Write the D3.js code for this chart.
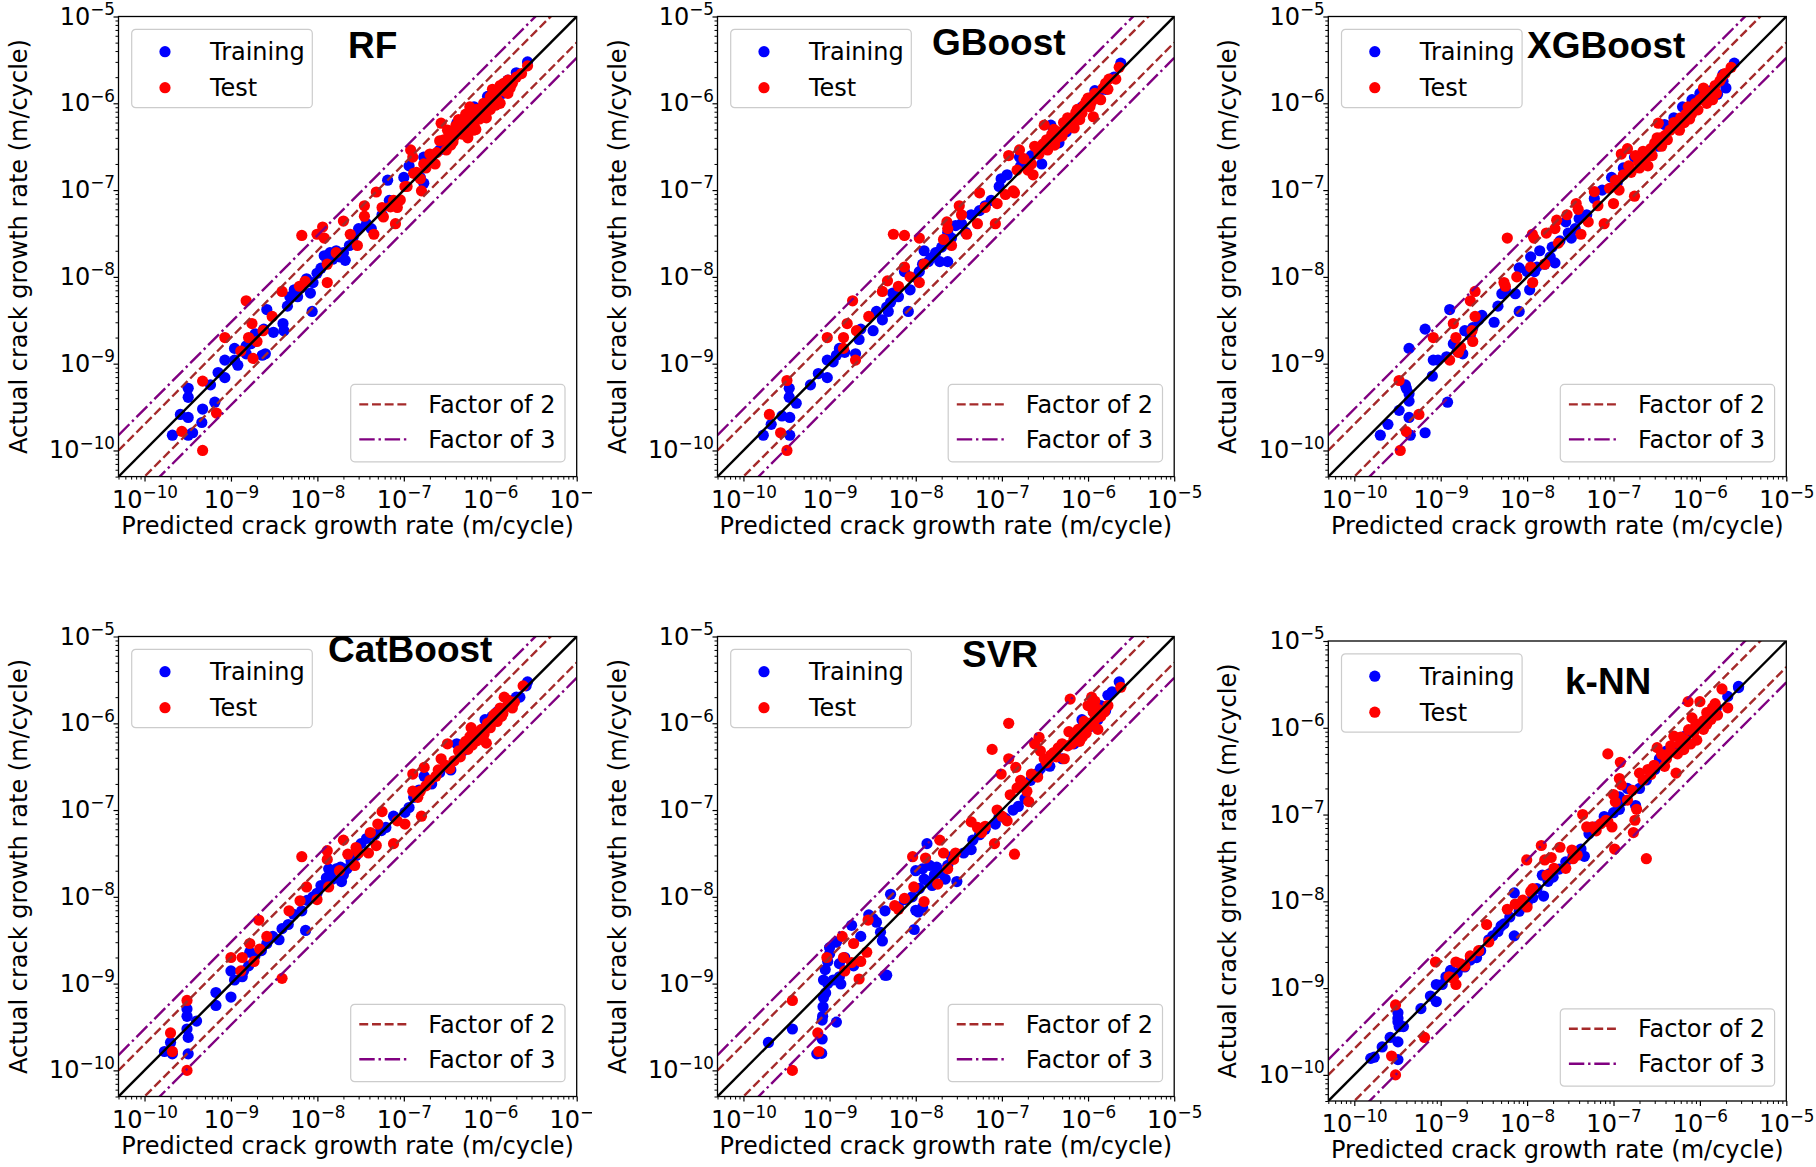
<!DOCTYPE html>
<html>
<head>
<meta charset="utf-8">
<script src="https://cdn.jsdelivr.net/npm/d3@7"></script>
<style>
  body { margin: 0; background: #fff; }
  svg { display: block; }
  text { font-family: "DejaVu Sans", sans-serif; fill: #000; }
  .title { font-family: "Liberation Sans", Arial, sans-serif; font-weight: bold; font-size: 37px; }
</style>
</head>
<body>
<div id="chart"></div>
<script>
// each point: [predicted, actual] in m/cycle
const rfTrain = [
  [2.1e-10,1.5e-10],[2.6e-10,2.6e-10],[3.2e-10,5.2e-10],[3.2e-10,4.1e-10],[3.2e-10,2.4e-10],[3.2e-10,1.5e-10],[3.6e-10,1.6e-10],[4.6e-10,2.1e-10],[4.7e-10,3.0e-10],[5.8e-10,5.7e-10],[6.5e-10,3.6e-10],[7.1e-10,7.9e-10],[8.5e-10,6.9e-10],[8.5e-10,1.1e-9],[1.1e-9,1.1e-9],[1.1e-9,1.5e-9],[1.2e-9,9.6e-10],[1.5e-9,1.3e-9],[1.5e-9,1.6e-9],[1.7e-9,1.7e-9],[2.3e-9,1.25e-9],[2.5e-9,1.3e-9],[2.6e-9,4.2e-9],[2.4e-9,2.5e-9],[3.1e-9,2.3e-9],[4.0e-9,2.9e-9],[4.1e-9,2.4e-9],[4.5e-9,4.6e-9],[4.8e-9,5.9e-9],[5.4e-9,7.1e-9],[5.9e-9,5.9e-9],[8.3e-9,6.5e-9],[8.7e-9,4.0e-9],[8.9e-9,8.6e-9],[9.9e-9,1.1e-8],[1.1e-8,1.26e-8],[1.2e-8,1.75e-8],[1.4e-8,1.9e-8],[1.5e-8,1.6e-8],[1.65e-8,2.0e-8],[2.0e-8,1.9e-8],[2.1e-8,1.55e-8],[2.35e-8,2.3e-8],[3.0e-8,3.6e-8],[3.7e-8,4.1e-8],[4.2e-8,3.6e-8],[5.6e-8,5.2e-8],[6.5e-8,1.3e-7],[6.8e-8,7.6e-8],[1.0e-7,1.4e-7],[1.15e-7,1.9e-7],[1.55e-7,1.4e-7],[1.7e-7,1.2e-7],[1.7e-7,2.4e-7],[2.6e-7,2.9e-7],[2.85e-7,3.5e-7],[4.1e-7,5.9e-7],[4.3e-7,4.7e-7],[6.5e-7,9.1e-7],[9.3e-7,1.2e-6],[1.2e-6,1.27e-6],[1.6e-6,1.85e-6],[2.0e-6,2.25e-6],[2.7e-6,3.0e-6],[3.2e-7,3.4e-7],[5.5e-7,5.2e-7],[8e-7,7.6e-7],[1.4e-6,1.3e-6],
  [1.3e-8,1.5e-8],[1.8e-8,1.7e-8],[2.6e-8,2.9e-8],[1.9e-9,2.2e-9],[6.5e-9,7.5e-9],[7.5e-9,9.5e-9]
];
const rfTest = [
  [2.7e-10,1.66e-10],[4.7e-10,6.3e-10],[4.7e-10,1.0e-10],[6.8e-10,2.7e-10],[8.5e-10,2.0e-9],[1.3e-9,1.4e-9],[1.5e-9,5.3e-9],[1.6e-9,2.0e-9],[1.75e-9,2.9e-9],[1.8e-9,1.15e-9],[2.0e-9,1.8e-9],[2.35e-9,2.4e-9],[3.0e-9,3.5e-9],[3.9e-9,6.8e-9],[6.6e-9,3.0e-8],[6.2e-9,7.8e-9],[7.2e-9,8.9e-9],[9.9e-9,3.1e-8],[1.15e-8,3.75e-8],[1.2e-8,2.8e-8],[1.3e-8,1.4e-8],[1.3e-8,8.6e-9],[1.65e-8,1.9e-8],[2.0e-8,4.4e-8],[2.4e-8,3.1e-8],[2.9e-8,2.3e-8],[3.5e-8,6.6e-8],[3.5e-8,5.0e-8],[4.5e-8,3.1e-8],[4.8e-8,9.5e-8],[5.6e-8,6.3e-8],[8.0e-8,4.1e-8],[8.4e-8,6.3e-8],[7.6e-8,7.6e-8],[1.2e-7,2.9e-7],[1.27e-7,2.4e-7],[1.03e-7,1.1e-7],[1.4e-7,1.6e-7],[1.55e-7,1.35e-7],[1.8e-7,1.8e-7],[2.1e-7,2.2e-7],[1.6e-7,9.8e-8],[2.7e-7,5.9e-7],[2.6e-7,3.7e-7],[3.1e-7,2.9e-7],[3.9e-7,4.2e-7],[4.3e-7,6.5e-7],[5.8e-7,9.1e-7],[5.2e-7,7.5e-7],[6.5e-7,5.6e-7],[7.9e-7,7.5e-7],[9.6e-7,1.0e-6],[1.06e-6,1.45e-6],[1.2e-6,1.1e-6],[1.6e-6,1.85e-6],[1.8e-6,1.7e-6],[1.3e-6,1.6e-6],[2.7e-6,2.7e-6],[2.0e-7,2.6e-7],[2.3e-7,2.0e-7],[3.5e-7,3.3e-7],[4.8e-7,4.4e-7],[6.0e-7,6.2e-7],[7.0e-7,8.5e-7],[8.5e-7,7.0e-7],[1.0e-6,8.5e-7],[1.1e-6,1.2e-6],[1.4e-6,1.4e-6],[5.5e-7,4.0e-7],[6.8e-7,5.0e-7],[9.0e-7,6.8e-7],[1.3e-6,1.0e-6],[1.6e-6,1.3e-6],[2.0e-6,2.0e-6],[3.2e-7,4.9e-7],[4.0e-7,5.5e-7],
  [2.9e-7,3.8e-7],[3.4e-7,4.5e-7],[4.9e-7,5.9e-7],[5.9e-7,7.0e-7],[7.0e-7,8.4e-7],[8.4e-7,1.0e-6],[1.0e-6,1.19e-6],[1.2e-6,1.42e-6],[1.43e-6,1.7e-6],[6.4e-7,4.9e-7],[1.7e-7,2.0e-7],[1.3e-7,1.56e-7],[1.09e-7,1.1e-7],[9.1e-8,7.7e-8],[7.0e-8,6.4e-8],[5.8e-8,4.9e-8],[2.4e-7,2.7e-7],[3.7e-7,3.6e-7],[5.0e-7,4.8e-7],[7.5e-7,6.6e-7],[1.15e-6,9.5e-7],[1.7e-6,1.5e-6],[2.3e-6,2.2e-6]
];

const gboostTrain = [
  [1.7e-10,1.5e-10],[2.1e-10,2.0e-10],[2.8e-10,2.5e-10],[3.4e-10,5.2e-10],[3.4e-10,4.1e-10],[3.45e-10,2.4e-10],[3.45e-10,1.5e-10],[4.1e-10,3.5e-10],[6.0e-10,5.7e-10],[7.4e-10,7.7e-10],[9.4e-10,6.9e-10],[9.4e-10,1.1e-9],[1.1e-9,1.05e-9],[1.2e-9,1.25e-9],[1.3e-9,1.5e-9],[1.5e-9,1.35e-9],[2.0e-9,1.3e-9],[2.2e-9,1.9e-9],[2.3e-9,2.5e-9],[3.2e-9,2.4e-9],[3.5e-9,4.0e-9],[4.1e-9,3.2e-9],[4.8e-9,4.0e-9],[5.1e-9,5.1e-9],[5.4e-9,6.5e-9],[6.3e-9,5.9e-9],[7.4e-9,1.15e-8],[8.2e-9,4.0e-9],[8.6e-9,7.1e-9],[1.0e-8,9.9e-9],[1.1e-8,1.15e-8],[1.2e-8,1.4e-8],[1.25e-8,2.0e-8],[1.4e-8,1.5e-8],[1.5e-8,1.65e-8],[1.7e-8,1.9e-8],[1.9e-8,1.5e-8],[2.35e-8,1.5e-8],[2.35e-8,3.25e-8],[2.9e-8,3.9e-8],[3.4e-8,4.1e-8],[3.8e-8,3.25e-8],[4.4e-8,5.2e-8],[5.5e-8,5.8e-8],[6.4e-8,6.6e-8],[7.5e-8,7.6e-8],[9.3e-8,1.1e-7],[9.8e-8,1.35e-7],[1.15e-7,1.5e-7],[1.6e-7,2.4e-7],[1.65e-7,1.9e-7],[2.9e-7,2.0e-7],[3.7e-7,5.6e-7],[4.6e-7,3.5e-7],[5.6e-7,4.7e-7],[6.9e-7,6.8e-7],[8.5e-7,9.1e-7],[1.05e-6,1.15e-6],[1.3e-6,1.27e-6],[1.6e-6,1.45e-6],[2.0e-6,2.0e-6],[2.4e-6,2.9e-6],[1.2e-6,1.4e-6],[1.05e-6,9.5e-7],
  [1.6e-8,1.7e-8],[2.0e-8,2.2e-8],[2.6e-8,2.8e-8],[4.6e-9,4.5e-9],[2.2e-7,2.5e-7],[3.0e-7,3.3e-7]
];
const gboostTest = [
  [2.0e-10,2.6e-10],[2.7e-10,1.6e-10],[3.2e-10,6.4e-10],[3.2e-10,1.0e-10],[9.4e-10,2.0e-9],[1.45e-9,2.0e-9],[1.45e-9,1.5e-9],[1.6e-9,2.9e-9],[1.85e-9,5.3e-9],[2.0e-9,1.1e-9],[2.05e-9,2.4e-9],[2.85e-9,3.5e-9],[4.1e-9,6.8e-9],[4.7e-9,9.0e-9],[5.5e-9,3.1e-8],[6.3e-9,7.8e-9],[7.4e-9,3.0e-8],[7.4e-9,1.3e-8],[8.6e-9,1.0e-8],[1.1e-8,8.6e-9],[1.1e-8,2.8e-8],[1.25e-8,1.4e-8],[2.1e-8,2.7e-8],[2.3e-8,4.3e-8],[2.35e-8,3.6e-8],[2.6e-8,2.3e-8],[3.2e-8,6.6e-8],[3.4e-8,5.2e-8],[3.9e-8,3.1e-8],[5.5e-8,9.3e-8],[5.2e-8,4.1e-8],[6.4e-8,6.3e-8],[8.4e-8,4.1e-8],[8.8e-8,7.0e-8],[1.1e-7,8.9e-8],[1.35e-7,9.8e-8],[1.4e-7,9.3e-8],[1.2e-7,2.5e-7],[1.6e-7,2.9e-7],[2.0e-7,1.7e-7],[2.3e-7,1.5e-7],[2.4e-7,3.2e-7],[3.1e-7,5.6e-7],[3.3e-7,3.8e-7],[4.1e-7,3.3e-7],[5.0e-7,4.2e-7],[6.2e-7,6.2e-7],[6.9e-7,5.2e-7],[8.5e-7,7.7e-7],[1.05e-6,9.1e-7],[1.15e-6,7.0e-7],[1.4e-6,1.1e-6],[1.7e-6,1.45e-6],[2.1e-6,1.9e-6],[2.3e-6,2.6e-6],[2.7e-7,2.6e-7],[4.5e-7,4.7e-7],[5.5e-7,5.0e-7],[7.5e-7,8.5e-7],[9.5e-7,1.05e-6],[1.2e-6,1.3e-6],[1.6e-6,1.7e-6],[8.0e-7,6.5e-7],[3.8e-7,4.4e-7],
  [1.5e-7,1.7e-7],[2.2e-7,2.0e-7],[3.0e-7,3.4e-7],[3.4e-7,2.9e-7],[4.4e-7,4.0e-7],[5.2e-7,6.0e-7],[6.2e-7,5.6e-7],[7.2e-7,7.8e-7],[7.8e-7,6.8e-7],[9.0e-7,9.5e-7],[1.0e-6,1.15e-6],[1.25e-6,1.15e-6],[1.5e-6,1.5e-6],[1.75e-6,1.9e-6],[1.8e-7,2.3e-7],[2.6e-7,3.0e-7],[4.0e-7,5.0e-7],[5.8e-7,6.8e-7],[1.1e-6,1.05e-6]
];

const xgbTrain = [
  [2.0e-10,1.5e-10],[2.45e-10,2.0e-10],[3.3e-10,2.9e-10],[3.9e-10,5.7e-10],[4.0e-10,5.2e-10],[4.3e-10,4.5e-10],[4.3e-10,3.7e-10],[4.3e-10,2.4e-10],[4.45e-10,1.5e-10],[4.3e-10,1.5e-9],[6.6e-10,1.6e-10],[6.6e-10,2.5e-9],[8.0e-10,7.2e-10],[8.2e-10,1.1e-9],[9.3e-10,1.1e-9],[1.2e-9,3.6e-10],[1.27e-9,4.2e-9],[1.17e-9,1.2e-9],[1.4e-9,1.7e-9],[1.55e-9,1.4e-9],[1.8e-9,1.3e-9],[1.9e-9,2.4e-9],[2.35e-9,2.6e-9],[2.75e-9,3.2e-9],[3.0e-9,3.6e-9],[4.15e-9,3.0e-9],[4.6e-9,4.6e-9],[5.1e-9,6.4e-9],[5.6e-9,7.1e-9],[7.3e-9,6.4e-9],[8.1e-9,4.0e-9],[8.1e-9,1.27e-8],[1.0e-8,1.15e-8],[1.07e-8,7.1e-9],[1.1e-8,1.7e-8],[1.22e-8,1.15e-8],[1.4e-8,2.0e-8],[1.6e-8,1.4e-8],[1.85e-8,1.7e-8],[1.95e-8,2.2e-8],[2.1e-8,1.45e-8],[2.8e-8,4.3e-8],[3.25e-8,2.8e-8],[3.6e-8,3.6e-8],[4.0e-8,4.7e-8],[4.9e-8,5.2e-8],[6.0e-8,8.0e-8],[7.4e-8,1.0e-7],[9.5e-8,1.4e-7],[1.1e-7,1.2e-7],[1.3e-7,1.8e-7],[1.75e-7,2.4e-7],[2.4e-7,2.6e-7],[3.3e-7,3.2e-7],[3.9e-7,5.7e-7],[5.0e-7,6.8e-7],[6.3e-7,9.1e-7],[8.1e-7,1.1e-6],[1.0e-6,1.3e-6],[1.35e-6,1.4e-6],[1.85e-6,2.15e-6],[2.5e-6,2.9e-6],[1.85e-6,1.8e-6],[2.0e-6,1.5e-6],[1.6e-6,1.27e-6],
  [1.3e-8,1.3e-8],[2.4e-8,2.6e-8],[3.0e-8,3.2e-8],[2.2e-9,2.1e-9]
];
const xgbTest = [
  [3.3e-10,6.4e-10],[3.4e-10,1.0e-10],[4.0e-10,1.65e-10],[5.6e-10,2.6e-10],[8.2e-10,2.0e-9],[1.27e-9,1.1e-9],[1.4e-9,2.9e-9],[1.5e-9,2.0e-9],[1.6e-9,1.35e-9],[1.7e-9,1.55e-9],[2.2e-9,5.3e-9],[2.35e-9,1.8e-9],[2.3e-9,2.4e-9],[2.5e-9,6.8e-9],[2.5e-9,3.5e-9],[5.4e-9,8.6e-9],[5.6e-9,7.8e-9],[5.9e-9,2.8e-8],[7.6e-9,1.0e-8],[1.1e-8,1.3e-8],[1.15e-8,3.1e-8],[1.2e-8,2.8e-8],[1.16e-8,8.6e-9],[1.6e-8,1.4e-8],[1.67e-8,3.2e-8],[2.2e-8,4.5e-8],[2.1e-8,3.6e-8],[2.3e-8,2.45e-8],[2.9e-8,5.2e-8],[3.7e-8,7.0e-8],[3.9e-8,6.0e-8],[4.2e-8,3.1e-8],[5.1e-8,4.3e-8],[6.0e-8,9.6e-8],[6.6e-8,6.6e-8],[7.8e-8,4.1e-8],[1.0e-7,7.0e-8],[1.16e-7,1.0e-7],[1.23e-7,2.6e-7],[1.45e-7,3.0e-7],[1.75e-7,8.5e-8],[1.6e-7,1.6e-7],[1.95e-7,2.1e-7],[2.4e-7,2.4e-7],[3.0e-7,3.5e-7],[3.3e-7,5.9e-7],[4.0e-7,4.3e-7],[4.9e-7,5.2e-7],[6.0e-7,6.8e-7],[7.3e-7,9.1e-7],[8.9e-7,1.0e-6],[1.1e-6,1.2e-6],[1.35e-6,1.35e-6],[1.7e-6,1.8e-6],[2.3e-6,2.6e-6],[2.0e-7,1.8e-7],[2.7e-7,3.0e-7],[3.6e-7,3.2e-7],[4.5e-7,4.9e-7],[5.4e-7,5.5e-7],[6.6e-7,6.0e-7],[8.0e-7,7.5e-7],[9.5e-7,8.4e-7],[1.2e-6,1.0e-6],[1.5e-6,1.6e-6],[1.1e-6,1.5e-6],[1.8e-6,2.0e-6],[1.4e-6,1.1e-6],[2.5e-7,1.9e-7],[3.5e-7,4.0e-7],
  [1.3e-7,1.5e-7],[1.5e-7,1.9e-7],[1.8e-7,2.5e-7],[2.2e-7,2.8e-7],[2.8e-7,2.5e-7],[3.2e-7,4.0e-7],[4.2e-7,3.8e-7],[5.0e-7,6.0e-7],[5.8e-7,4.9e-7],[6.9e-7,7.5e-7],[7.6e-7,6.6e-7],[8.5e-7,9.2e-7],[1.0e-6,1.1e-6],[1.25e-6,1.25e-6],[1.55e-6,1.3e-6],[1.95e-6,2.2e-6],[1.05e-7,1.3e-7],[9.0e-8,1.05e-7]
];

const catTrain = [
  [1.7e-10,1.65e-10],[2.1e-10,1.55e-10],[2.0e-10,2.1e-10],[3.1e-10,5.1e-10],[3.1e-10,4.2e-10],[3.1e-10,3.0e-10],[3.2e-10,2.4e-10],[3.2e-10,1.55e-10],[4.0e-10,3.7e-10],[6.7e-10,7.9e-10],[6.7e-10,5.6e-10],[1.0e-9,7.0e-10],[1.0e-9,1.4e-9],[1.1e-9,1.1e-9],[1.35e-9,1.2e-9],[1.4e-9,1.4e-9],[1.6e-9,1.6e-9],[1.65e-9,2.3e-9],[1.9e-9,2.1e-9],[2.25e-9,2.4e-9],[2.6e-9,2.9e-9],[3.05e-9,3.5e-9],[3.6e-9,3.2e-9],[3.9e-9,4.3e-9],[4.6e-9,4.8e-9],[5.3e-9,6.3e-9],[6.6e-9,6.9e-9],[7.3e-9,4.1e-9],[7.6e-9,9.1e-9],[8.9e-9,1.0e-8],[9.9e-9,1.1e-8],[1.1e-8,1.35e-8],[1.27e-8,1.65e-8],[1.35e-8,2.1e-8],[1.4e-8,1.8e-8],[1.65e-8,2.1e-8],[1.9e-8,1.5e-8],[2.0e-8,1.8e-8],[1.85e-8,2.2e-8],[2.45e-8,2.6e-8],[3.2e-8,4.1e-8],[3.7e-8,4.7e-8],[4.6e-8,5.2e-8],[5.5e-8,5.8e-8],[6.2e-8,6.3e-8],[7.6e-8,8.5e-8],[1.03e-7,9.4e-8],[1.15e-7,1.07e-7],[1.72e-7,2.45e-7],[2.1e-7,2.0e-7],[2.6e-7,2.7e-7],[3.5e-7,2.9e-7],[4.1e-7,5.8e-7],[4.8e-7,4.8e-7],[6.5e-7,7.0e-7],[8.7e-7,1.1e-6],[1.05e-6,1.2e-6],[1.2e-6,1.35e-6],[1.6e-6,1.6e-6],[2.0e-6,2.0e-6],[2.6e-6,2.7e-6],[2.7e-6,3.0e-6],[2.2e-6,2.0e-6],
  [1.5e-8,1.6e-8],[2.2e-8,2.1e-8],[2.8e-8,3.0e-8],[1.3e-7,1.4e-7],[1.5e-7,1.7e-7]
];
const catTest = [
  [2.0e-10,2.7e-10],[2.1e-10,1.65e-10],[3.1e-10,6.4e-10],[3.1e-10,1.0e-10],[1.0e-9,2.0e-9],[1.3e-9,1.4e-9],[1.35e-9,2.0e-9],[1.65e-9,2.9e-9],[1.85e-9,1.8e-9],[2.1e-9,5.4e-9],[2.15e-9,2.5e-9],[2.6e-9,3.5e-9],[3.9e-9,1.15e-9],[4.7e-9,6.9e-9],[6.6e-9,2.9e-8],[6.3e-9,9.0e-9],[7.5e-9,1.3e-8],[9.9e-9,9.3e-9],[1.3e-8,3.4e-8],[1.3e-8,2.7e-8],[1.35e-8,1.3e-8],[1.8e-8,2.0e-8],[2.0e-8,4.5e-8],[2.25e-8,3.1e-8],[2.7e-8,2.3e-8],[2.8e-8,3.7e-8],[3.0e-8,3.2e-8],[3.9e-8,3.2e-8],[4.1e-8,5.5e-8],[4.8e-8,3.9e-8],[5.0e-8,6.9e-8],[5.6e-8,9.6e-8],[7.6e-8,4.1e-8],[8.4e-8,7.5e-8],[1.03e-7,6.9e-8],[1.27e-7,1.65e-7],[1.55e-7,1.65e-7],[1.27e-7,2.6e-7],[1.6e-7,8.5e-8],[1.72e-7,3.1e-7],[2.35e-7,2.45e-7],[2.7e-7,3.9e-7],[3.2e-7,5.8e-7],[4.3e-7,4.8e-7],[5.0e-7,5.8e-7],[5.8e-7,7.0e-7],[6.5e-7,7.6e-7],[7.9e-7,8.5e-7],[9.3e-7,1.0e-6],[1.05e-6,1.1e-6],[1.3e-6,1.5e-6],[1.45e-6,2.0e-6],[1.6e-6,1.6e-6],[1.8e-6,1.5e-6],[2.4e-6,2.7e-6],[2.0e-7,2.2e-7],[3.0e-7,3.3e-7],[3.8e-7,3.7e-7],[5.5e-7,5.0e-7],[7.0e-7,6.3e-7],[8.5e-7,7.5e-7],[1.0e-6,8.9e-7],[1.2e-6,1.05e-6],[1.4e-6,1.3e-6],[6.0e-7,8.9e-7],[1.15e-6,1.3e-6],[9.0e-7,5.9e-7],
  [1.8e-7,1.9e-7],[2.5e-7,2.9e-7],[3.4e-7,3.0e-7],[4.5e-7,4.1e-7],[5.2e-7,6.2e-7],[6.2e-7,5.6e-7],[7.4e-7,8.0e-7],[8.2e-7,6.9e-7],[9.6e-7,9.4e-7],[1.1e-6,1.25e-6],[1.35e-6,1.2e-6],[1.6e-6,1.85e-6],[1.9e-6,1.75e-6],[1.45e-7,1.4e-7]
];

const svrTrain = [
  [1.95e-10,2.1e-10],[3.7e-10,3.0e-10],[7.1e-10,1.55e-10],[8.1e-10,1.57e-10],[8.2e-10,2.3e-10],[8.3e-10,4.2e-10],[8.4e-10,5.4e-10],[8.5e-10,6.9e-10],[9.0e-10,7.8e-10],[8.2e-10,3.8e-10],[8.5e-10,1.1e-9],[8.9e-10,1.45e-9],[9.5e-10,1.8e-9],[1.0e-9,2.2e-9],[1.2e-9,3.6e-10],[9.5e-10,1.0e-9],[1.1e-9,1.1e-9],[1.3e-9,1.2e-9],[1.35e-9,9.9e-10],[1.0e-9,2.6e-9],[1.2e-9,3.0e-9],[1.3e-9,1.7e-9],[1.5e-9,2.0e-9],[1.9e-9,1.6e-9],[1.8e-9,4.7e-9],[2.3e-9,3.5e-9],[2.85e-9,6.2e-9],[3.2e-9,5.6e-9],[3.9e-9,3.9e-9],[4.1e-9,3.1e-9],[4.4e-9,1.25e-9],[4.6e-9,1.25e-9],[3.5e-9,5.1e-9],[4.4e-9,6.9e-9],[5.1e-9,1.07e-8],[6.3e-9,7.6e-9],[7.4e-9,9.3e-9],[9.1e-9,1.0e-8],[1.0e-8,7.0e-9],[9.6e-9,4.2e-9],[1.07e-8,6.7e-9],[1.2e-8,7.6e-9],[1.4e-8,1.5e-8],[1.55e-8,1.35e-8],[1.0e-8,2.0e-8],[1.2e-8,2.1e-8],[1.35e-8,4.1e-8],[1.45e-8,2.3e-8],[1.65e-8,1.8e-8],[1.9e-8,1.9e-8],[2.2e-8,1.6e-8],[2.35e-8,2.3e-8],[2.6e-8,2.9e-8],[3.0e-8,1.5e-8],[3.6e-8,3.2e-8],[4.4e-8,3.5e-8],[4.6e-8,4.5e-8],[5.5e-8,5.2e-8],[6.4e-8,6.0e-8],[8.4e-8,6.9e-8],[9.3e-8,8.5e-8],[1.1e-7,8.0e-8],[1.35e-7,1.0e-7],[1.55e-7,1.1e-7],[1.85e-7,1.35e-7],[2.15e-7,2.2e-7],[2.6e-7,2.65e-7],[3.6e-7,3.2e-7],[5.0e-7,3.9e-7],[6.9e-7,5.8e-7],[8.5e-7,1.1e-6],[1.15e-6,1.35e-6],[1.4e-6,1.6e-6],[1.7e-6,2.1e-6],[1.9e-6,2.3e-6],[2.3e-6,3.0e-6],[1.6e-6,1.4e-6],[1.3e-6,1.1e-6],[1.05e-6,9.1e-7],
  [1.25e-8,1.6e-8],[1.75e-8,2.2e-8],[1.1e-8,1.25e-8],[2.8e-7,3.0e-7],[4.2e-7,4.4e-7]
];
const svrTest = [
  [3.7e-10,6.4e-10],[3.7e-10,1.0e-10],[7.3e-10,2.7e-10],[7.5e-10,1.65e-10],[9.3e-10,2.0e-9],[1.4e-9,3.5e-9],[1.45e-9,2.0e-9],[1.5e-9,1.4e-9],[1.8e-9,1.75e-9],[1.9e-9,2.9e-9],[2.2e-9,1.13e-9],[2.3e-9,1.8e-9],[2.7e-9,2.3e-9],[2.8e-9,5.4e-9],[5.7e-9,7.9e-9],[6.3e-9,7.2e-9],[7.4e-9,9.6e-9],[9.2e-9,2.9e-8],[9.5e-9,1.3e-8],[1.25e-8,8.8e-9],[1.3e-8,2.8e-8],[1.8e-8,1.4e-8],[1.9e-8,4.5e-8],[2.1e-8,3.2e-8],[2.35e-8,2.1e-8],[2.75e-8,2.7e-8],[2.9e-8,3.2e-8],[4.4e-8,7.3e-8],[5.2e-8,6.3e-8],[5.8e-8,5.5e-8],[6.4e-8,6.5e-8],[8.2e-8,4.1e-8],[7.7e-8,5.0e-7],[8.8e-8,1.0e-7],[1.0e-7,8.5e-8],[1.15e-7,7.5e-8],[9.8e-8,2.6e-7],[1.2e-7,3.9e-7],[1.2e-7,1.0e-6],[1.4e-7,3.1e-8],[1.45e-7,3.1e-7],[1.5e-7,1.8e-7],[1.65e-7,2.2e-7],[1.95e-7,1.65e-7],[2.05e-7,1.25e-7],[2.4e-7,5.8e-7],[2.7e-7,6.9e-7],[2.8e-7,4.8e-7],[3.1e-7,3.9e-7],[3.7e-7,4.3e-7],[4.5e-7,5.2e-7],[5.3e-7,3.9e-7],[6.2e-7,1.9e-6],[6.9e-7,6.7e-7],[7.7e-7,8.5e-7],[9.5e-7,7.7e-7],[1.05e-6,1.0e-6],[1.1e-6,1.6e-6],[1.15e-6,1.35e-6],[1.2e-6,1.8e-6],[1.3e-6,8.5e-7],[2.4e-6,2.6e-6],[1.0e-6,1.6e-6],[1.1e-6,2.0e-6],[3.3e-7,3.5e-7],[4.0e-7,4.6e-7],[5.8e-7,5.5e-7],[8.0e-7,6.2e-7],[9.0e-7,1.05e-6],[1.4e-6,1.2e-6],[6.0e-7,8.0e-7],[1.7e-6,1.6e-6],
  [2.2e-7,2.6e-7],[2.6e-7,2.4e-7],[3.5e-7,3.9e-7],[4.3e-7,4.1e-7],[5.0e-7,5.8e-7],[6.5e-7,5.8e-7],[7.2e-7,7.8e-7],[8.6e-7,7.0e-7],[1.0e-6,9.0e-7],[1.2e-6,1.1e-6],[1.3e-6,1.45e-6],[1.55e-6,1.35e-6],[1.25e-7,1.5e-7],[1.8e-7,2.0e-7]
];

const knnTrain = [
  [1.55e-10,1.55e-10],[1.7e-10,1.6e-10],[2.1e-10,2.1e-10],[2.6e-10,2.7e-10],[3.2e-10,5.2e-10],[3.2e-10,4.5e-10],[3.2e-10,4.1e-10],[3.3e-10,3.6e-10],[3.2e-10,2.4e-10],[3.2e-10,1.5e-10],[3.7e-10,3.6e-10],[5.9e-10,5.8e-10],[7.6e-10,8.1e-10],[8.9e-10,7.0e-10],[8.9e-10,1.1e-9],[1.04e-9,1.1e-9],[1.15e-9,1.35e-9],[1.3e-9,1.6e-9],[1.35e-9,1.35e-9],[1.55e-9,1.5e-9],[1.9e-9,1.75e-9],[2.2e-9,2.1e-9],[2.6e-9,2.25e-9],[2.9e-9,2.7e-9],[3.6e-9,3.6e-9],[4.0e-9,4.0e-9],[4.6e-9,4.5e-9],[5.4e-9,5.5e-9],[6.3e-9,6.6e-9],[7.1e-9,1.25e-8],[7.1e-9,4.0e-9],[8.1e-9,7.7e-9],[1.0e-8,9.5e-9],[1.16e-8,1.1e-8],[1.5e-8,2.0e-8],[1.55e-8,1.15e-8],[1.75e-8,1.7e-8],[2.0e-8,1.9e-8],[2.35e-8,2.35e-8],[2.8e-8,2.85e-8],[3.4e-8,3.3e-8],[4.2e-8,4.0e-8],[4.6e-8,3.3e-8],[5.2e-8,6.0e-8],[6.3e-8,7.2e-8],[7.8e-8,9.5e-8],[1.0e-7,1.05e-7],[1.17e-7,1.15e-7],[1.17e-7,1.6e-7],[1.3e-7,1.45e-7],[1.45e-7,2.0e-7],[1.8e-7,1.27e-7],[2.0e-7,2.0e-7],[2.4e-7,2.5e-7],[3.0e-7,3.3e-7],[3.4e-7,4.4e-7],[4.1e-7,5.4e-7],[4.9e-7,6.0e-7],[6.7e-7,8.0e-7],[9.1e-7,1.05e-6],[1.25e-6,1.4e-6],[1.55e-6,1.7e-6],[2.1e-6,2.3e-6],[2.8e-6,2.9e-6],[2.8e-6,3.0e-6],
  [1.3e-8,1.4e-8],[1.85e-8,2.1e-8],[5.0e-9,5.2e-9]
];
const knnTest = [
  [2.7e-10,1.65e-10],[3.0e-10,6.4e-10],[3.0e-10,1.0e-10],[6.5e-10,2.7e-10],[8.7e-10,2.0e-9],[1.25e-9,1.35e-9],[1.4e-9,1.3e-9],[1.5e-9,1.1e-9],[1.5e-9,2.0e-9],[1.7e-9,1.9e-9],[1.9e-9,1.8e-9],[2.2e-9,2.35e-9],[2.75e-9,2.7e-9],[3.4e-9,5.4e-9],[3.6e-9,3.4e-9],[5.9e-9,8.1e-9],[7.3e-9,9.3e-9],[8.1e-9,9.3e-9],[8.9e-9,1.03e-8],[1.1e-8,1.3e-8],[1.16e-8,1.4e-8],[9.9e-9,3.0e-8],[1.0e-8,8.6e-9],[1.46e-8,4.4e-8],[1.6e-8,3.0e-8],[1.7e-8,2.0e-8],[1.9e-8,3.2e-8],[2.05e-8,2.4e-8],[2.4e-8,4.2e-8],[2.8e-8,2.4e-8],[3.3e-8,3.9e-8],[3.4e-8,3.1e-8],[3.8e-8,3.4e-8],[4.4e-8,1.0e-7],[4.9e-8,7.2e-8],[5.7e-8,7.2e-8],[6.3e-8,6.5e-8],[7.1e-8,7.8e-8],[8.2e-8,8.6e-8],[8.6e-8,8.3e-8],[9.6e-8,7.2e-8],[1.03e-7,4.0e-8],[8.6e-8,5.0e-7],[1.0e-7,1.7e-7],[1.05e-7,1.4e-7],[1.17e-7,2.6e-7],[1.23e-7,2.2e-7],[1.45e-7,1.47e-7],[1.7e-7,6.2e-8],[1.77e-7,8.6e-8],[1.85e-7,1.15e-7],[1.2e-7,4.0e-7],[2.4e-7,3.1e-8],[2.0e-7,3.0e-7],[2.2e-7,2.5e-7],[2.5e-7,3.3e-7],[2.95e-7,3.7e-7],[3.2e-7,5.9e-7],[3.6e-7,4.95e-7],[4.1e-7,4.4e-7],[5.0e-7,8.0e-7],[5.3e-7,3.0e-7],[5.9e-7,6.5e-7],[7.4e-7,9.5e-7],[8.1e-7,1.3e-6],[9.2e-7,7.2e-7],[1.0e-6,1.05e-6],[1.25e-6,1.3e-6],[1.4e-6,1.7e-6],[2.1e-6,1.7e-6],[7.3e-7,2.0e-6],[1.0e-6,2.0e-6],[1.8e-6,2.8e-6],[4.5e-7,5.2e-7],[6.5e-7,5.6e-7],[8.5e-7,8.9e-7],[1.1e-6,9.6e-7],[1.2e-6,1.5e-6],[1.6e-6,1.4e-6],[6.0e-7,7.8e-7],[1.2e-6,1.1e-6],
  [2.7e-7,2.9e-7],[3.9e-7,3.6e-7],[4.6e-7,6.2e-7],[5.5e-7,5.0e-7],[6.8e-7,7.2e-7],[7.8e-7,6.5e-7],[9.0e-7,1.1e-6],[1.1e-6,1.2e-6],[1.35e-6,1.25e-6],[1.5e-6,1.9e-6],[1.65e-7,1.9e-7]
];

const axisDomain = [5e-11, 1e-5];
const decades = [1e-10, 1e-9, 1e-8, 1e-7, 1e-6, 1e-5];
const decadeExps = ["\u221210", "\u22129", "\u22128", "\u22127", "\u22126", "\u22125"];
const seriesNames = ["Training", "Test"];
const factors = [2, 3];
const factorNames = ["Factor of 2", "Factor of 3"];
const xTitle = "Predicted crack growth rate (m/cycle)";
const yTitle = "Actual crack growth rate (m/cycle)";

const seriesColors = ["#0000ff", "#ff0000"];
const factorColors = ["#a52a2a", "#800080"];
const lineW = 2.4;
const factorDash = ["8.9,3.8", "15.4,3.8,2.4,3.8"];
const dotR = 5.6;
const fontSize = 24;

// layout of the six sub-pictures (pixel boxes of each axes)
const panels = [
  { title: "RF",       train: rfTrain,     test: rfTest,     x0: 118.5,  x1: 576.7,  y0: 16.5,  y1: 476.6,  tx: 348,  ty: 57.5, clipW: 592 },
  { title: "GBoost",   train: gboostTrain, test: gboostTest, x0: 717.5,  x1: 1174.2, y0: 16.5,  y1: 476.6,  tx: 932,  ty: 54.5 },
  { title: "XGBoost",  train: xgbTrain,    test: xgbTest,    x0: 1328.3, x1: 1786.3, y0: 16.5,  y1: 476.6,  tx: 1527, ty: 57.5 },
  { title: "CatBoost", train: catTrain,    test: catTest,    x0: 118.5,  x1: 576.7,  y0: 636.5, y1: 1096.5, tx: 328,  ty: 662, clipW: 592 },
  { title: "SVR",      train: svrTrain,    test: svrTest,    x0: 717.5,  x1: 1174.2, y0: 636.5, y1: 1096.5, tx: 962,  ty: 667 },
  { title: "k-NN",     train: knnTrain,    test: knnTest,    x0: 1328.3, x1: 1786.3, y0: 641,   y1: 1101,   tx: 1565, ty: 694 }
];

const svg = d3.select("#chart").append("svg")
    .attr("width", 1816)
    .attr("height", 1167);
svg.append("rect").attr("width", 1816).attr("height", 1167).attr("fill", "#fff");
const defs = svg.append("defs");

function powLabel(sel, exp) {
    sel.append("tspan").text("10");
    sel.append("tspan").attr("font-size", fontSize * 0.7).attr("dy", -9.6).text(exp);
}

panels.forEach((p, i) => {
    let x = d3.scaleLog().domain(axisDomain).range([p.x0, p.x1]);
    let y = d3.scaleLog().domain(axisDomain).range([p.y1, p.y0]);

    let g = svg.append("g");
    if (p.clipW) {
        // the source image of this panel was cut at its right side
        defs.append("clipPath").attr("id", "img" + i)
            .append("rect").attr("x", 0).attr("y", p.y0 - 20).attr("width", p.clipW).attr("height", 620);
        g.attr("clip-path", `url(#img${i})`);
    }
    defs.append("clipPath").attr("id", "area" + i)
        .append("rect")
        .attr("x", p.x0).attr("y", p.y0)
        .attr("width", p.x1 - p.x0).attr("height", p.y1 - p.y0);

    let plot = g.append("g").attr("clip-path", `url(#area${i})`);

    // scatter points
    [p.train, p.test].forEach((pts, s) => {
        plot.append("g").selectAll("circle")
            .data(pts)
            .join("circle")
            .attr("cx", d => x(d[0]))
            .attr("cy", d => y(d[1]))
            .attr("r", dotR)
            .attr("fill", seriesColors[s]);
    });

    // 1:1 line and factor bands
    plot.append("line")
        .attr("x1", x(axisDomain[0])).attr("y1", y(axisDomain[0]))
        .attr("x2", x(axisDomain[1])).attr("y2", y(axisDomain[1]))
        .attr("stroke", "#000").attr("stroke-width", lineW);
    factors.forEach((f, k) => {
        [f, 1 / f].forEach(m => {
            plot.append("line")
                .attr("x1", x(axisDomain[0])).attr("y1", y(axisDomain[0] * m))
                .attr("x2", x(axisDomain[1])).attr("y2", y(axisDomain[1] * m))
                .attr("stroke", factorColors[k])
                .attr("stroke-width", lineW)
                .attr("stroke-dasharray", factorDash[k]);
        });
    });

    // axes
    let minor = x.ticks().filter(t => decades.indexOf(t) < 0 && Math.abs(Math.log10(t) % 1) > 1e-6);

    let xAxis = g.append("g").attr("transform", `translate(0,${p.y1})`)
        .call(d3.axisBottom(x).tickValues(decades).tickSize(5).tickSizeOuter(0).tickFormat(""));
    g.append("g").attr("transform", `translate(0,${p.y1})`)
        .call(d3.axisBottom(x).tickValues(minor).tickSize(3).tickSizeOuter(0).tickFormat(""))
        .call(a => a.select(".domain").remove());
    let yAxis = g.append("g").attr("transform", `translate(${p.x0},0)`)
        .call(d3.axisLeft(y).tickValues(decades).tickSize(5).tickSizeOuter(0).tickFormat(""));
    g.append("g").attr("transform", `translate(${p.x0},0)`)
        .call(d3.axisLeft(y).tickValues(minor).tickSize(3).tickSizeOuter(0).tickFormat(""))
        .call(a => a.select(".domain").remove());

    [xAxis, yAxis].forEach(a => {
        a.select(".domain").remove();
        a.selectAll(".tick text").remove();
        a.selectAll(".tick line").attr("stroke-width", 1.2);
    });

    xAxis.selectAll(".tick").append("text")
        .attr("y", 31)
        .attr("text-anchor", "middle")
        .attr("font-size", fontSize)
        .attr("fill", "#000")
        .each(function(d, j) { powLabel(d3.select(this), decadeExps[j]); });

    yAxis.selectAll(".tick").append("text")
        .attr("x", -3.5)
        .attr("y", 7.5)
        .attr("text-anchor", "end")
        .attr("font-size", fontSize)
        .attr("fill", "#000")
        .each(function(d, j) { powLabel(d3.select(this), decadeExps[j]); });

    // frame
    g.append("rect")
        .attr("x", p.x0).attr("y", p.y0)
        .attr("width", p.x1 - p.x0).attr("height", p.y1 - p.y0)
        .attr("fill", "none").attr("stroke", "#000").attr("stroke-width", 1.3);

    // axis titles
    g.append("text")
        .attr("x", (p.x0 + p.x1) / 2)
        .attr("y", p.y1 + 57)
        .attr("text-anchor", "middle")
        .attr("font-size", fontSize)
        .text(xTitle);
    g.append("text")
        .attr("transform", `translate(${p.x0 - 92},${(p.y0 + p.y1) / 2}) rotate(-90)`)
        .attr("text-anchor", "middle")
        .attr("font-size", fontSize)
        .text(yTitle);

    // legend: series
    let lg = g.append("g").attr("transform", `translate(${p.x0 + 13.2},${p.y0 + 12.8})`);
    lg.append("rect")
        .attr("width", 180.6).attr("height", 78.4).attr("rx", 4)
        .attr("fill", "#fff").attr("fill-opacity", 0.8)
        .attr("stroke", "#cccccc").attr("stroke-width", 1.2);
    seriesNames.forEach((s, j) => {
        lg.append("circle")
            .attr("cx", 33.3).attr("cy", 22.4 + 36 * j).attr("r", dotR)
            .attr("fill", seriesColors[j]);
        lg.append("text")
            .attr("x", 78.3).attr("y", 22.4 + 36 * j + 8.5)
            .attr("font-size", fontSize)
            .text(s);
    });

    // legend: factor lines
    let lw = 214.3, lh = 77.4;
    let lg2 = g.append("g").attr("transform", `translate(${p.x1 - 11.7 - lw},${p.y1 - 14.8 - lh})`);
    lg2.append("rect")
        .attr("width", lw).attr("height", lh).attr("rx", 4)
        .attr("fill", "#fff").attr("fill-opacity", 0.8)
        .attr("stroke", "#cccccc").attr("stroke-width", 1.2);
    factorNames.forEach((s, j) => {
        lg2.append("line")
            .attr("x1", 8.6).attr("x2", 57.6)
            .attr("y1", 20 + 35 * j).attr("y2", 20 + 35 * j)
            .attr("stroke", factorColors[j]).attr("stroke-width", lineW)
            .attr("stroke-dasharray", factorDash[j]);
        lg2.append("text")
            .attr("x", 77.6).attr("y", 20 + 35 * j + 8.5)
            .attr("font-size", fontSize)
            .text(s);
    });

    // model name
    g.append("text")
        .attr("class", "title")
        .attr("x", p.tx).attr("y", p.ty)
        .text(p.title);
});
</script>
</body>
</html>
